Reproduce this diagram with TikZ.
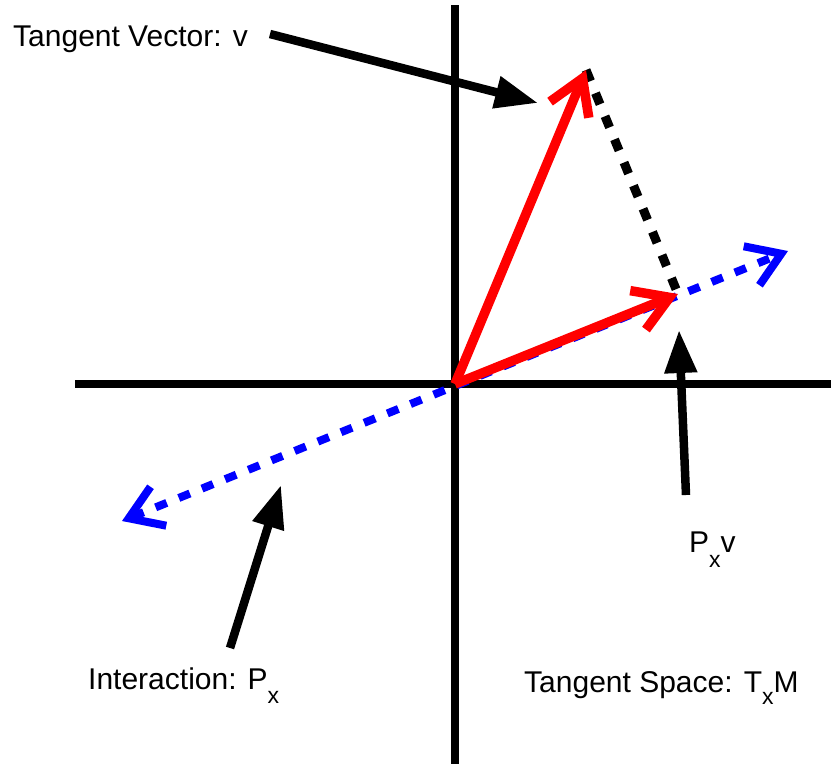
\documentclass[tikz,border=0pt]{standalone}
\usepackage{fontspec}
\setmainfont{Liberation Sans}
\usetikzlibrary{arrows.meta}
\newcommand{\subsz}{\fontsize{23}{26}\selectfont}
\tikzset{
  axis/.style={line width=8pt, line cap=butt},
  vec/.style={red, line width=9.5pt, -{Straight Barb[length=34pt, width=42pt, line width=9.5pt]}},
  proj/.style={blue, line width=8pt, dash pattern=on 12pt off 13pt,
     {Straight Barb[length=32pt, width=42pt, line width=8pt]}-{Straight Barb[length=32pt, width=42pt, line width=8pt]}},
  drop/.style={black, line width=9pt, dash pattern=on 12pt off 13pt},
  pointer/.style={black, line width=8.5pt, -{Triangle[length=43pt, width=31pt]}},
  lbl/.style={inner sep=0pt, anchor=base west, font=\fontsize{30}{36}\selectfont}
}
\begin{document}
\begin{tikzpicture}[x=1pt, y=-1pt]
\useasboundingbox (0,0) rectangle (831,764);
% axes
\coordinate (xL) at (75,384);
\coordinate (xR) at (831,384);
\coordinate (yT) at (455,5);
\coordinate (yB) at (455,764);
\draw[axis] (xL) -- (xR);
\draw[axis] (yT) -- (yB);
% key points
\coordinate (O) at (455,384);
\coordinate (vtip) at (586,70);
\coordinate (ptip) at (678,294);
\coordinate (bR) at (788,251);
\coordinate (bL) at (122,521);
% tangent space line
\draw[proj] (bL) -- (bR);
% drop line
\draw[drop] (vtip) -- (ptip);
% vectors
\draw[vec] (O) -- (vtip);
\draw[vec] (O) -- (ptip);
% labels
\node[lbl] (tv) at (13,46) {Tangent Vector: v};
\node[lbl] (ia) at (88,689) {Interaction: P\raisebox{-14pt}{\subsz x}};
\node[lbl] (pv) at (689,552) {P\raisebox{-15pt}{\subsz x}v};
\node[lbl] (ts) at (524,692) {Tangent Space: T\raisebox{-12pt}{\subsz x}M};
% pointer arrows
\coordinate (s1) at (270,34);
\coordinate (e1) at (538,103);
\coordinate (s2) at (686,495);
\coordinate (e2) at (679,330);
\coordinate (s3) at (230,648);
\coordinate (e3) at (281,485);
\draw[pointer] (s1) -- (e1);
\draw[pointer] (s2) -- (e2);
\draw[pointer] (s3) -- (e3);
\end{tikzpicture}
\end{document}
